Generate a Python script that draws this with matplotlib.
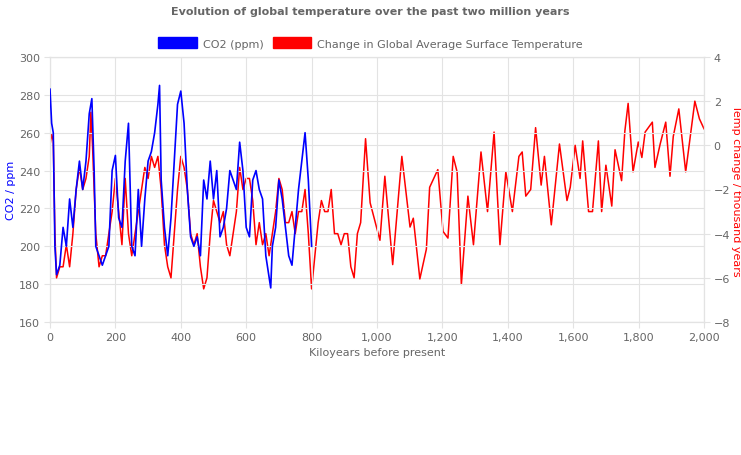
import matplotlib
matplotlib.use("Agg")
import matplotlib.pyplot as plt
from matplotlib.patches import Patch
from matplotlib.ticker import FuncFormatter

# CO2 record (kyr before present, ppm)
co2_age = [0, 5, 10, 15, 20, 30, 40, 50, 60, 70, 80, 90, 100, 110, 120, 128, 135, 140,
           150, 160, 170, 180, 190, 200, 210, 220, 230, 240, 250, 260, 270, 280, 290,
           300, 310, 320, 330, 335, 340, 350, 360, 370, 380, 390, 400, 410, 420, 430,
           440, 450, 460, 470, 480, 490, 500, 510, 520, 530, 540, 550, 560, 570, 580,
           590, 600, 610, 620, 630, 640, 650, 660, 675, 680, 690, 700, 710, 720, 730,
           740, 750, 760, 770, 780, 790, 800]
co2_ppm = [283, 265, 260, 200, 185, 190, 210, 200, 225, 210, 230, 245, 230, 245, 270,
           278, 240, 200, 195, 190, 195, 200, 240, 248, 215, 210, 245, 265, 200, 195,
           230, 200, 225, 245, 250, 260, 275, 285, 235, 210, 195, 215, 245, 275, 282,
           265, 230, 205, 200, 205, 195, 235, 225, 245, 225, 240, 205, 210, 220, 240,
           235, 230, 255, 240, 210, 205, 235, 240, 230, 225, 195, 178, 200, 210, 235,
           225, 210, 195, 190, 210, 230, 245, 260, 235, 200]

# temperature change (kyr before present, degC)
temp_age = [0, 5, 10, 15, 20, 30, 40, 50, 60, 70, 80, 90, 100, 110, 120, 125, 130, 140,
            150, 160, 170, 180, 190, 200, 210, 220, 230, 240, 250, 260, 270, 280, 290,
            300, 310, 320, 330, 340, 350, 360, 370, 380, 390, 400, 410, 420, 430, 440,
            450, 460, 470, 480, 490, 500, 510, 520, 530, 540, 550, 560, 570, 580, 590,
            600, 610, 620, 630, 640, 650, 660, 670, 680, 690, 700, 710, 720, 730, 740,
            750, 760, 770, 780, 790, 800, 810, 820, 830, 840, 850, 860, 870, 880, 890,
            900, 910, 920, 930, 940, 950, 960, 965, 979, 1009, 1024, 1048, 1076, 1101,
            1111, 1131, 1151, 1161, 1186, 1202, 1217, 1233, 1245, 1258, 1278, 1295,
            1318, 1338, 1358, 1376, 1394, 1414, 1434, 1444, 1455, 1470, 1485, 1502,
            1512, 1533, 1558, 1581, 1591, 1606, 1621, 1629, 1647, 1659, 1677, 1687,
            1700, 1718, 1728, 1748, 1758, 1768, 1783, 1799, 1810, 1820, 1842, 1850,
            1866, 1883, 1896, 1906, 1923, 1944, 1972, 1986, 2000]
temp_c = [0, 0.5, 0.2, -4, -6, -5.5, -5.5, -4.5, -5.5, -4, -2, -1, -2, -1.5, -0.5, 1.5,
          0, -4, -5.5, -5, -5, -4, -3, -1.5, -3, -4.5, -1.5, -4, -5, -4, -3, -2, -1,
          -1.5, -0.5, -1, -0.5, -2, -4.5, -5.5, -6, -4, -2, -0.5, -1, -2, -4, -4.5,
          -4, -5.5, -6.5, -6, -4, -2.5, -3, -3.5, -3, -4.5, -5, -4, -3, -1, -2, -1.5,
          -1.5, -2.5, -4.5, -3.5, -4.5, -4, -5, -4, -3, -1.5, -2, -3.5, -3.5, -3, -4,
          -3, -3, -2, -4, -6.5, -5, -3.5, -2.5, -3, -3, -2, -4, -4, -4.5, -4, -4,
          -5.5, -6, -4, -3.5, -1, 0.3, -2.6, -4.3, -1.4, -5.4, -0.5, -3.7, -3.3,
          -6.05, -4.7, -1.9, -1.1, -3.9, -4.2, -0.5, -1.2, -6.3, -2.3, -4.5, -0.3,
          -3, 0.6, -4.5, -1.2, -3, -0.5, -0.3, -2.3, -2, 0.8, -1.8, -0.5, -3.6, 0.06,
          -2.5, -1.9, 0, -1.5, 0.2, -3, -3, 0.2, -3, -0.9, -2.75, -0.2, -1.6, 0.65,
          1.9, -1.2, 0.15, -0.55, 0.6, 1.05, -1, 0.06, 1.05, -1.4, 0.4, 1.65, -1.2,
          2.0, 1.2, 0.75]

fig = plt.figure(figsize=(7.41, 4.56), dpi=100)
ax = fig.add_axes([50 / 741, 1 - 323 / 456, 654 / 741, 265 / 456])
ax2 = ax.twinx()

grid_col = "#e3e3e3"
txt_col = "#666666"

ax.plot(co2_age, co2_ppm, color="#0000ff", lw=1.2, zorder=3)
ax2.plot(temp_age, temp_c, color="#ff0000", lw=1.1)
ax.set_zorder(ax2.get_zorder() + 1)
ax.patch.set_visible(False)

ax.set_xlim(0, 2000)
ax.set_ylim(160, 300)
ax2.set_ylim(-8, 4)
ax.set_xticks(range(0, 2001, 200))
ax.set_yticks(range(160, 301, 20))
ax2.set_yticks(range(-8, 5, 2))
ax.xaxis.set_major_formatter(FuncFormatter(lambda v, p: f"{int(v):,}"))
ax.grid(True, color=grid_col, lw=0.8)
ax2.grid(True, color=grid_col, lw=0.8, axis="y")

for a in (ax, ax2):
    for s in a.spines.values():
        s.set_color(grid_col)
    a.tick_params(colors=txt_col, labelsize=8, length=4, color=grid_col, pad=3)

ax.set_xlabel("Kiloyears before present", color=txt_col, fontsize=8)
ax.set_ylabel("CO2 / ppm", color="#0000ff", fontsize=8, labelpad=2)
ax2.set_ylabel("Temp change / thousand years", color="#ff0000", fontsize=8, rotation=-90, labelpad=8)

fig.text(0.5, 1 - 12 / 456, "Evolution of global temperature over the past two million years",
         ha="center", va="center", fontsize=8, fontweight="bold", color=txt_col)
handles = [Patch(color="#0000ff", label="CO2 (ppm)"),
           Patch(color="#ff0000", label="Change in Global Average Surface Temperature")]
fig.legend(handles=handles, loc="center", bbox_to_anchor=(0.5, 1 - 44 / 456), ncol=2,
           frameon=False, fontsize=8, handlelength=3.5, handleheight=1.1,
           columnspacing=0.8, handletextpad=0.5, labelcolor=txt_col)

fig.savefig("out.png", dpi=100)
